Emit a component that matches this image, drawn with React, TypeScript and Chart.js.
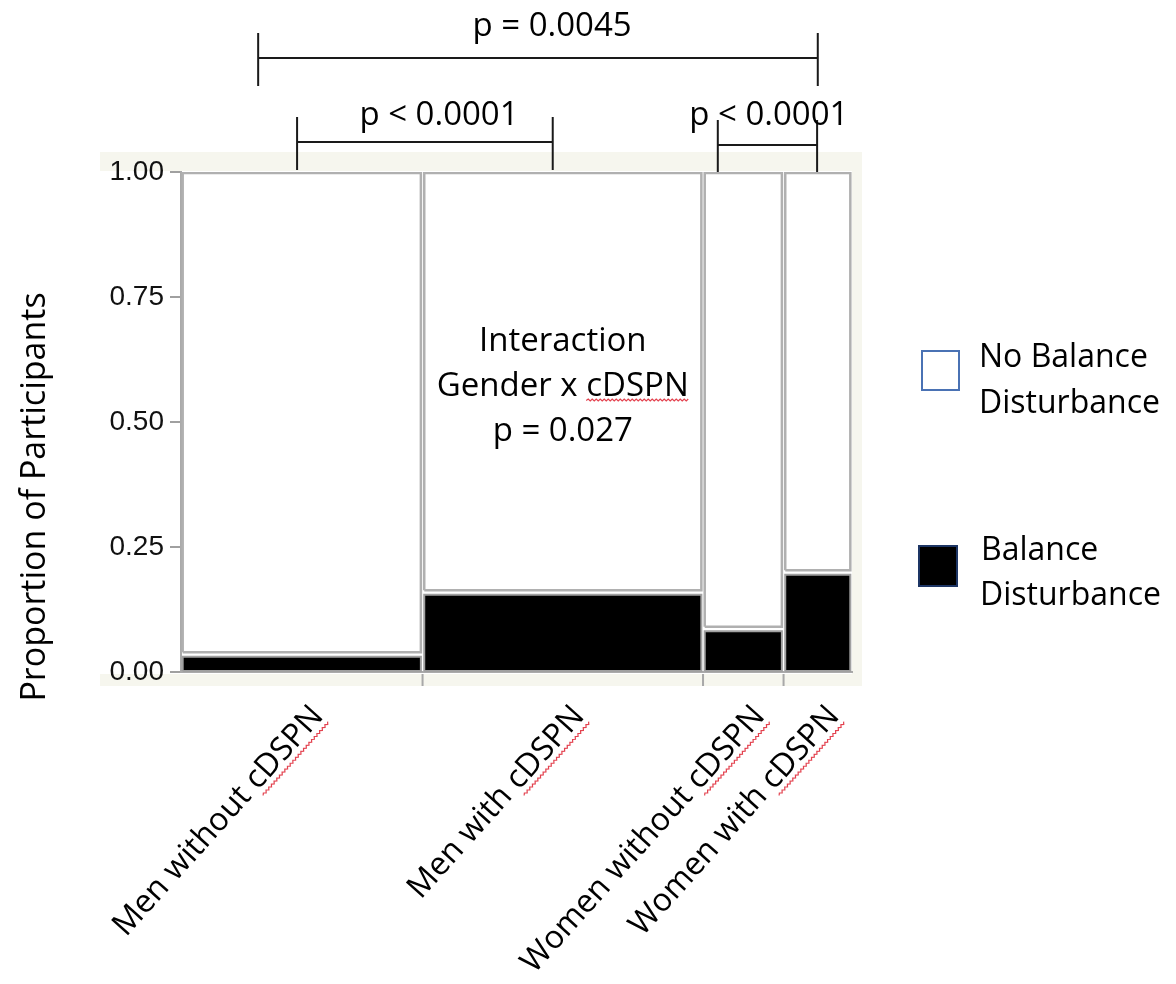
import React, { useEffect, useRef } from "react";
import { Chart, registerables } from "chart.js";

Chart.register(...registerables);

// ---------- data ----------
const categories = ["Men without cDSPN", "Men with cDSPN", "Women without cDSPN", "Women with cDSPN"];
const groupShare = [0.36, 0.418, 0.12, 0.102]; // column widths (share of participants)
const balanceShare = [0.035, 0.159, 0.086, 0.199]; // proportion with balance disturbance
const yTickValues = [0, 0.25, 0.5, 0.75, 1];
const seriesNames = ["No Balance Disturbance", "Balance Disturbance"];
const legendLines = [["No Balance", "Disturbance"], ["Balance", "Disturbance"]];
const bracketStart = [0.115, 0.173, 0.8];
const bracketEnd = [0.949, 0.554, 0.948];
const bracketLevel = [1.228, 1.06, 1.054];
const bracketLabels = ["p = 0.0045", "p < 0.0001", "p < 0.0001"];
const bracketLabelX = [0.553, 0.3845, 0.876];
const bracketLabelY = [1.29, 1.112, 1.112];
const interactionLines = ["Interaction", "Gender x cDSPN", "p = 0.027"];
const interactionY = [0.643, 0.553, 0.463];
const yTitle = "Proportion of Participants";

// ---------- derived ----------
const edges = groupShare.reduce((acc, w) => [...acc, acc[acc.length - 1] + w], [0] as number[]);
const centers = groupShare.map((w, i) => edges[i] + w / 2);

const GX = 0.0025;
const GY = 0.0045;
const rect = (x0: number, x1: number, y0: number, y1: number) => [
  { x: x0, y: y0 },
  { x: x0, y: y1 },
  { x: x1, y: y1 },
  { x: x1, y: y0 },
  { x: x0, y: y0 },
];

const OPEN = '"Open Sans", "Noto Sans", sans-serif';

function squiggle(ctx: CanvasRenderingContext2D, x0: number, x1: number, y: number) {
  ctx.save();
  ctx.strokeStyle = "#e3424f";
  ctx.lineWidth = 1.2;
  ctx.beginPath();
  let up = true;
  ctx.moveTo(x0, y);
  for (let x = x0 + 2; x <= x1; x += 2) {
    ctx.lineTo(x, up ? y - 1.5 : y + 0.5);
    up = !up;
  }
  ctx.stroke();
  ctx.restore();
}

const decorPlugin = {
  id: "decor",
  beforeDraw(chart: any) {
    const ctx: CanvasRenderingContext2D = chart.ctx;
    const a = chart.chartArea;
    ctx.save();
    ctx.fillStyle = "#ffffff";
    ctx.fillRect(0, 0, chart.width, chart.height);
    ctx.fillStyle = "#f6f6ee";
    ctx.fillRect(100, a.top - 20, a.right + 10 - 100, 19);
    ctx.fillRect(a.right, a.top - 20, 10, a.bottom - a.top + 34);
    ctx.fillRect(100, a.bottom + 2, a.right + 10 - 100, 12);
    ctx.restore();
  },
  afterDraw(chart: any) {
    const ctx: CanvasRenderingContext2D = chart.ctx;
    const xs = chart.scales.x;
    const ys = chart.scales.y;
    ctx.save();
    ctx.fillStyle = "#000";

    // y axis title
    ctx.save();
    ctx.translate(35, 497);
    ctx.rotate(-Math.PI / 2);
    ctx.font = `34px ${OPEN}`;
    ctx.textAlign = "center";
    ctx.textBaseline = "middle";
    ctx.fillText(yTitle, 0, 0);
    ctx.restore();

    // bracket labels
    ctx.font = `33px ${OPEN}`;
    ctx.textAlign = "center";
    ctx.textBaseline = "middle";
    bracketLabels.forEach((t, i) => {
      ctx.fillText(t, xs.getPixelForValue(bracketLabelX[i]), ys.getPixelForValue(bracketLabelY[i]));
    });

    // interaction annotation in column 2
    ctx.font = `33px ${OPEN}`;
    ctx.textAlign = "center";
    ctx.textBaseline = "alphabetic";
    const cx = xs.getPixelForValue(centers[1]);
    interactionLines.forEach((t, i) => {
      ctx.fillText(t, cx, ys.getPixelForValue(interactionY[i]));
    });
    {
      const full = ctx.measureText(interactionLines[1]).width;
      const w = ctx.measureText("cDSPN").width;
      const right = cx + full / 2;
      squiggle(ctx, right - w, right, ys.getPixelForValue(interactionY[1]) + 5);
    }

    // squiggles under x labels
    const items = xs.getLabelItems ? xs.getLabelItems() : [];
    items.forEach((it: any) => {
      const [tx, ty] = it.options.translation;
      ctx.save();
      ctx.translate(tx, ty);
      ctx.rotate(it.options.rotation);
      ctx.font = it.font.string;
      const w = ctx.measureText("cDSPN").width;
      const off = it.textOffset || 0;
      const fs = it.font.size;
      squiggle(ctx, -w, 0, off + fs * 0.5);
      ctx.restore();
    });

    // legend
    ctx.font = `32px ${OPEN}`;
    ctx.textAlign = "left";
    ctx.textBaseline = "alphabetic";
    ctx.fillStyle = "#ffffff";
    ctx.fillRect(922, 351, 37, 39);
    ctx.strokeStyle = "#4a72b4";
    ctx.lineWidth = 2;
    ctx.strokeRect(922, 351, 37, 39);
    ctx.fillStyle = "#000000";
    ctx.fillRect(919, 546, 38, 40);
    ctx.strokeStyle = "#1d3564";
    ctx.strokeRect(919, 546, 38, 40);
    ctx.fillStyle = "#000";
    ctx.fillText(legendLines[0][0], 979, 367);
    ctx.fillText(legendLines[0][1], 979, 413);
    ctx.fillText(legendLines[1][0], 981, 560);
    ctx.fillText(legendLines[1][1], 980, 605);
    ctx.restore();
  },
};

export default function App() {
  const ref = useRef<HTMLCanvasElement | null>(null);

  useEffect(() => {
    if (!ref.current) return;
    const datasets: any[] = [];

    groupShare.forEach((_, i) => {
      const x0 = edges[i] + GX;
      const x1 = edges[i + 1] - GX;
      datasets.push({
        label: `${categories[i]} – ${seriesNames[0]}`,
        data: rect(x0, x1, balanceShare[i] + GY, 1 - 0.002),
        fill: "shape",
        backgroundColor: "#ffffff",
        borderColor: "#b0b0b0",
        borderWidth: 2.5,
        pointRadius: 0,
        tension: 0,
      });
      datasets.push({
        label: `${categories[i]} – ${seriesNames[1]}`,
        data: rect(x0, x1, 0.002, balanceShare[i] - GY),
        fill: "shape",
        backgroundColor: "#000000",
        borderColor: "#a0a0a0",
        borderWidth: 2,
        pointRadius: 0,
        tension: 0,
      });
    });

    // significance brackets
    bracketStart.forEach((s, i) => {
      const e = bracketEnd[i];
      const lv = bracketLevel[i];
      datasets.push({
        label: bracketLabels[i],
        data: [
          { x: s, y: lv - 0.056 },
          { x: s, y: lv + 0.05 },
          { x: s, y: null },
          { x: s, y: lv },
          { x: e, y: lv },
          { x: e, y: null },
          { x: e, y: lv - 0.056 },
          { x: e, y: lv + 0.05 },
        ],
        borderColor: "#1a1a1a",
        borderWidth: 2,
        pointRadius: 0,
        fill: false,
        spanGaps: false,
        clip: false,
      });
    });

    // column boundary tick marks under the x axis
    const tickPts: any[] = [];
    edges.slice(1, -1).forEach((e) => {
      tickPts.push({ x: e, y: -0.004 }, { x: e, y: -0.028 }, { x: e, y: null });
    });
    datasets.push({
      label: "boundaries",
      data: tickPts,
      borderColor: "#a8a8a8",
      borderWidth: 2,
      pointRadius: 0,
      fill: false,
      spanGaps: false,
      clip: false,
    });

    const chart = new Chart(ref.current, {
      type: "line",
      data: { datasets },
      options: {
        animation: false,
        responsive: false,
        maintainAspectRatio: false,
        layout: { padding: { left: 0, right: 324, top: 172, bottom: 0 } },
        plugins: { legend: { display: false }, tooltip: { enabled: false } },
        scales: {
          x: {
            type: "linear",
            min: 0,
            max: 1,
            afterBuildTicks: (s: any) => {
              s.ticks = centers.map((v) => ({ value: v }));
            },
            afterFit: (s: any) => {
              s.height = 312;
            },
            ticks: {
              autoSkip: false,
              minRotation: 48,
              maxRotation: 48,
              labelOffset: 16,
              padding: 26,
              color: "#000",
              font: { family: '"Open Sans"', size: 32 },
              callback: (_v: any, i: number) => categories[i],
            },
            grid: { display: false, drawTicks: false },
            border: { display: true, color: "#aaaaaa", width: 2 },
          },
          y: {
            type: "linear",
            min: 0,
            max: 1,
            afterBuildTicks: (s: any) => {
              s.ticks = yTickValues.map((v) => ({ value: v }));
            },
            afterFit: (s: any) => {
              s.width = 181;
            },
            ticks: {
              padding: 6,
              color: "#111",
              font: { family: '"Liberation Sans", Arial, sans-serif', size: 28 },
              callback: (v: any) => Number(v).toFixed(2),
            },
            grid: { drawOnChartArea: false, drawTicks: true, tickLength: 11, color: "#a0a0a0", lineWidth: 2 },
            border: { display: true, color: "#aaaaaa", width: 2 },
          },
        },
      },
      plugins: [decorPlugin],
    } as any);

    return () => chart.destroy();
  }, []);

  return (
    <div style={{ position: "absolute", left: 0, top: 0, width: 1176, height: 984 }}>
      <canvas ref={ref} width={1176} height={984} style={{ display: "block", width: 1176, height: 984 }} />
    </div>
  );
}
